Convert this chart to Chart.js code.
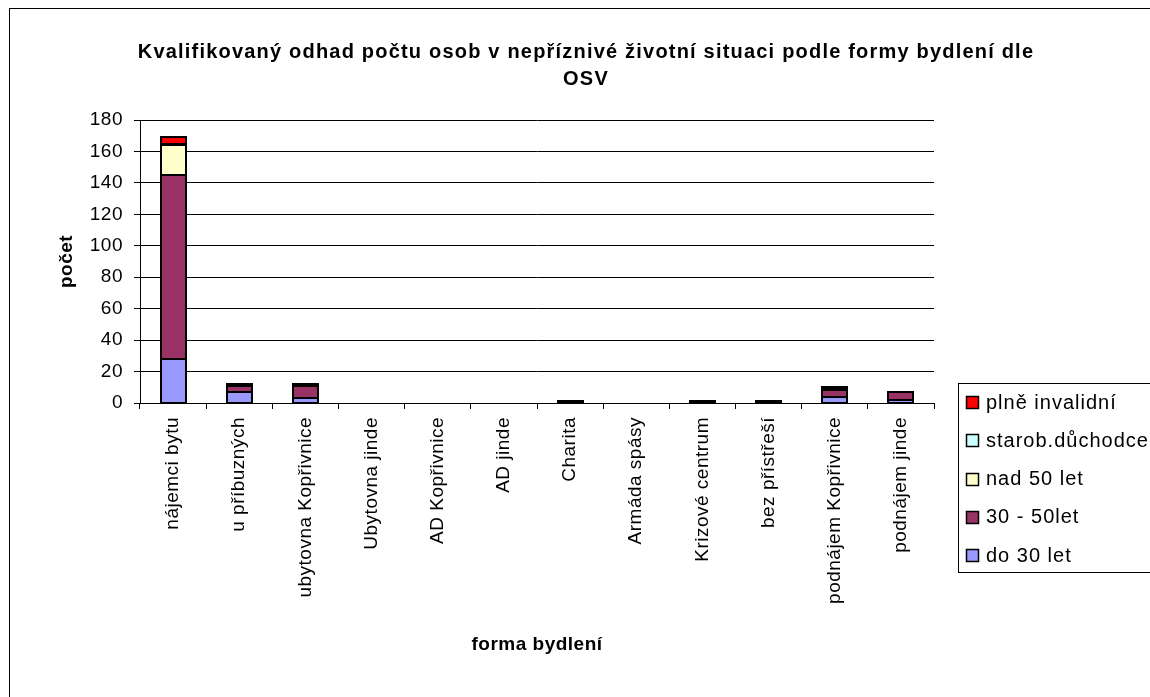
<!DOCTYPE html>
<html>
<head>
<meta charset="utf-8">
<script src="https://cdn.jsdelivr.net/npm/chart.js@4.4.1/dist/chart.umd.min.js"></script>
<style>
  html, body { margin: 0; padding: 0; background: #fff; overflow: hidden; }
  #wrap { position: relative; width: 1150px; height: 697px; }
  #frame { position: absolute; left: 9px; top: 8px; width: 1200px; height: 800px; border: 1px solid #000; box-sizing: border-box; }
  canvas { position: absolute; left: 0; top: 0; }
</style>
</head>
<body>
<div id="wrap">
  <div id="frame"></div>
  <canvas id="c" width="1150" height="697"></canvas>
</div>
<script>
const categories = ['nájemci bytu','u příbuzných','ubytovna Kopřivnice','Ubytovna jinde','AD Kopřivnice','AD jinde','Charita','Armáda spásy','Krizové centrum','bez přístřeší','podnájem Kopřivnice','podnájem jinde'];
const do30 =    [28, 7, 3, 0, 0, 0, 0, 0, 0, 0, 4, 2];
const mid3050 = [117, 4, 8, 0, 0, 0, 1, 0, 1, 1, 4, 5];
const nad50 =   [19, 1, 1, 0, 0, 0, 0, 0, 0, 0, 0, 0];
const starob =  [1, 0, 0, 0, 0, 0, 0, 0, 0, 0, 1, 0];
const plne =    [4, 0, 0, 0, 0, 0, 0, 0, 0, 0, 1, 0];
const seriesNames = ['do 30 let', '30 - 50let', 'nad 50 let', 'starob.důchodce', 'plně invalidní'];
const seriesColors = ['#9999FF', '#993366', '#FFFFCC', '#CCFFFF', '#FF0000'];
const yTicks = [0, 20, 40, 60, 80, 100, 120, 140, 160, 180];
const titleLines = ['Kvalifikovaný odhad počtu osob v nepříznivé životní situaci podle formy bydlení dle', 'OSV'];
const xTitle = 'forma bydlení';
const yTitle = 'počet';

const FONT = "'Liberation Sans', Arial, sans-serif";
const seriesData = [do30, mid3050, nad50, starob, plne];

const datasets = seriesData.map((d, i) => ({
  label: seriesNames[i],
  data: d,
  backgroundColor: seriesColors[i],
  borderWidth: 0,
  categoryPercentage: 1,
  barPercentage: 0.38
}));

const spacingPlugin = {
  id: 'spacing',
  beforeUpdate(chart) { chart.ctx.letterSpacing = '0.5px'; },
  beforeDraw(chart) { chart.ctx.letterSpacing = '0.5px'; }
};

// Excel-like black outline around every non-empty bar segment, using the library's own bar geometry
const outlinePlugin = {
  id: 'outline',
  afterDatasetsDraw(chart) {
    const ctx = chart.ctx;
    ctx.save();
    ctx.strokeStyle = '#000';
    ctx.lineWidth = 2;
    chart.data.datasets.forEach((ds, di) => {
      const meta = chart.getDatasetMeta(di);
      meta.data.forEach((el, i) => {
        if (!ds.data[i]) return;
        const p = el.getProps(['x', 'y', 'base', 'width'], true);
        const l = Math.round(p.x - p.width / 2);
        const r = Math.round(p.x + p.width / 2);
        const t = Math.round(Math.min(p.y, p.base));
        const b = Math.round(Math.max(p.y, p.base));
        ctx.strokeRect(l, t, r - l, Math.max(b - t, 1));
      });
    });
    ctx.restore();
  }
};

const titlePlugin = {
  id: 'customTitle',
  afterDraw(chart) {
    const ctx = chart.ctx;
    ctx.save();
    ctx.letterSpacing = '1.2px';
    ctx.font = 'bold 20px ' + FONT;
    ctx.fillStyle = '#000';
    ctx.textAlign = 'center';
    ctx.textBaseline = 'middle';
    ctx.fillText(titleLines[0], 586, 52);
    ctx.fillText(titleLines[1], 586, 79);
    ctx.restore();
  }
};

const legendPlugin = {
  id: 'boxLegend',
  afterDraw(chart) {
    const ctx = chart.ctx;
    ctx.save();
    ctx.letterSpacing = '1px';
    ctx.strokeStyle = '#000';
    ctx.lineWidth = 1;
    ctx.strokeRect(958.5, 383.5, 200, 189);
    ctx.font = '20px ' + FONT;
    ctx.textBaseline = 'middle';
    ctx.textAlign = 'left';
    const order = chart.data.datasets.map((ds, i) => i).reverse();
    order.forEach((di, k) => {
      const ds = chart.data.datasets[di];
      const cy = 402 + k * 38.3;
      ctx.fillStyle = ds.backgroundColor;
      ctx.fillRect(966.5, Math.round(cy - 6) + 0.5, 12, 12);
      ctx.strokeStyle = '#000';
      ctx.lineWidth = 1.5;
      ctx.strokeRect(966.5, Math.round(cy - 6) + 0.5, 12, 12);
      ctx.fillStyle = '#000';
      ctx.fillText(ds.label, 986, cy + 1);
    });
    ctx.restore();
  }
};

new Chart(document.getElementById('c'), {
  type: 'bar',
  data: { labels: categories, datasets },
  plugins: [spacingPlugin, outlinePlugin, titlePlugin, legendPlugin],
  options: {
    responsive: false,
    animation: false,
    layout: { padding: { left: 0, right: 216, top: 120, bottom: 0 } },
    plugins: {
      legend: { display: false },
      tooltip: { enabled: false },
      title: { display: false }
    },
    scales: {
      x: {
        stacked: true,
        offset: true,
        afterFit(scale) { scale.height = 294; },
        grid: { display: true, drawOnChartArea: false, drawTicks: true, tickLength: 6, offset: true, color: '#000' },
        border: { display: true, color: '#000', width: 1 },
        ticks: { autoSkip: false, minRotation: 90, maxRotation: 90, padding: 8, color: '#000', font: { family: FONT, size: 19 } },
        title: { display: true, text: xTitle, color: '#000', font: { family: FONT, size: 19, weight: 'bold' }, padding: { top: 0, bottom: 41 } }
      },
      y: {
        stacked: true,
        min: 0,
        max: 180,
        afterFit(scale) { scale.width = 140; },
        afterBuildTicks(scale) { scale.ticks = yTicks.map(v => ({ value: v })); },
        grid: { color: '#000', lineWidth: 1, drawTicks: true, tickLength: 6 },
        border: { display: true, color: '#000', width: 1 },
        ticks: { padding: 11, color: '#000', font: { family: FONT, size: 19 } },
        title: { display: true, text: yTitle, color: '#000', font: { family: FONT, size: 19, weight: 'bold' }, padding: { top: 55, bottom: 0 } }
      }
    }
  }
});
</script>
</body>
</html>
